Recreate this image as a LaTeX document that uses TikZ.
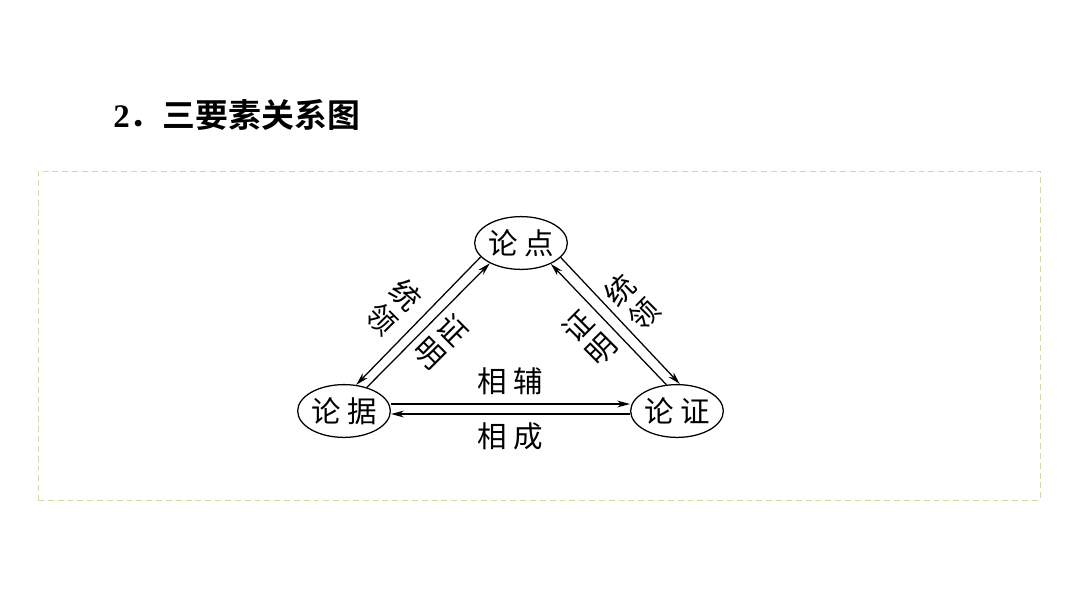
\documentclass[tikz,border=0pt]{standalone}
\usepackage{fontspec}
\newfontfamily\cjk{Noto Sans CJK SC}[BoldFont={Noto Sans CJK SC Bold}]
\newfontfamily\cjkwide{Noto Sans CJK SC}[LetterSpace=22]
\newfontfamily\serifnum{Liberation Serif}
\usetikzlibrary{arrows.meta, positioning, shapes.geometric}

\definecolor{framegreen}{RGB}{200,222,165}

\begin{document}
\begin{tikzpicture}[
    oval/.style={ellipse, draw, line width=0.9pt, minimum width=2.25cm, minimum height=1.32cm, inner sep=0pt, font=\cjkwide\fontsize{21}{24}\selectfont},
    arrow/.style={-{Stealth[length=3.2mm, width=1.7mm, inset=1mm]}, line width=0.9pt},
    sidelabel/.style={align=center, inner sep=0pt, font=\cjk\fontsize{21}{23.5}\selectfont},
    edgelabel/.style={font=\cjkwide\fontsize{21}{24}\selectfont}
]
\useasboundingbox (0,0) rectangle (27,-15.175);

% Title
\node[anchor=west, inner sep=0pt, font=\fontsize{23.4}{27}\selectfont] (title) at (2.825,-2.875) {{\serifnum\bfseries 2}{\cjk\bfseries ．三要素关系图}};

% ============ FRAME ============
\node[draw=framegreen, line width=0.7pt, dash pattern=on 4.2pt off 2.8pt, minimum width=25.05cm, minimum height=8.225cm, inner sep=0pt] (frame) at (13.475,-8.3875) {};

% ============ THREE ELEMENTS ============
\node[oval] (lundian) at (13.025,-6.075) {论点};
\node[oval] (lunju) at (8.6,-10.275) {论据};
\node[oval] (lunzheng) at (16.925,-10.275) {论证};

% Left side
\draw[arrow] (lundian.199) -- (lunju.65);
\draw[arrow] (lunju.46) -- (lundian.213);
\node[sidelabel, rotate=-45] (tonglingL) at (9.85,-7.675) {统\\领};
\node[sidelabel, rotate=-45] (zhengmingL) at (11.025,-8.55) {证\\明};

% Right side
\draw[arrow] (lundian.340) -- (lunzheng.84);
\draw[arrow] (lunzheng.112) -- (lundian.325);
\node[sidelabel, rotate=45] (zhengmingR) at (14.75,-8.45) {证\\明};
\node[sidelabel, rotate=45] (tonglingR) at (15.8,-7.55) {统\\领};

% Bottom
\draw[arrow] ([yshift=0.175cm]lunju.east) -- node[edgelabel, above=0.1cm] (xiangfu) {相辅} ([yshift=0.175cm]lunzheng.west);
\draw[arrow] ([yshift=-0.075cm]lunzheng.west) -- node[edgelabel, below=0.08cm] (xiangcheng) {相成} ([yshift=-0.075cm]lunju.east);

\end{tikzpicture}
\end{document}
